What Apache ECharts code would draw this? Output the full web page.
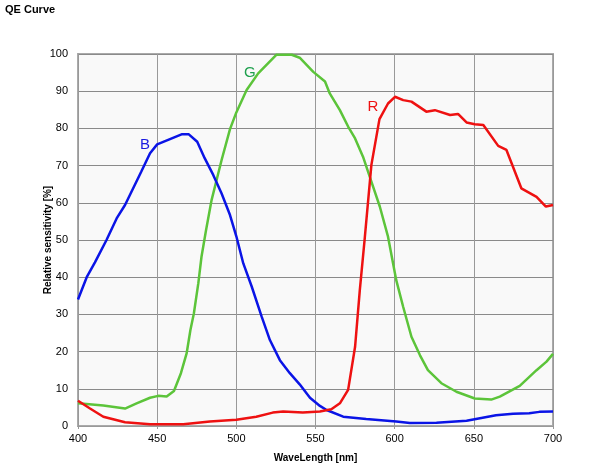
<!DOCTYPE html>
<html><head><meta charset="utf-8">
<script src="https://cdn.jsdelivr.net/npm/echarts@6/dist/echarts.min.js"></script>
<style>html,body{margin:0;padding:0;background:#fff}#c{width:600px;height:465px}</style>
</head><body><div id="c"></div>
<script>
var xTicks = [400, 450, 500, 550, 600, 650, 700];
var blueWl = [400,405.5,410.7,418,424.4,429.7,440,445.5,450,465.4,470,475.3,480,485.4,490.7,496,500,504.4,509.7,516,521.2,527.5,533.8,540,546.5,552.8,557,567.5,582,601,609.6,626.4,645.4,664,674.8,685,691.4,700];
var blueVal = [34,40,44,50,55.8,59.4,68.4,73.3,75.7,78.4,78.4,76.4,72,67.5,62.5,56.7,51,43.7,37.5,29.4,23.1,17.7,14.2,11.2,7.6,5.4,4.3,2.5,1.9,1.2,0.8,0.9,1.4,2.9,3.3,3.4,3.8,3.9];
var greenWl = [400,416,429.7,437,445.5,450.7,456,460.6,465,468.6,471,473.2,476,478,480.8,484.4,490.7,496,500,506.5,513.8,525.4,535,540,548.6,556,559,565.4,570.6,575,580,585.3,590.6,595.8,601,605.4,610.6,616,621,629.5,639,650.6,661,666.4,679,689.6,695.9,700];
var greenVal = [6.1,5.5,4.7,6.1,7.6,8.1,7.9,9.4,14.2,19.5,25.8,30.3,38.4,45.5,52.5,60.8,71.5,79.8,84.3,90.3,94.8,99.8,99.8,99,95.2,92.6,89.4,84.9,80.5,77.3,72.4,65.7,59,50.9,39.2,32,24,19,15,11.5,9.2,7.4,7.1,7.9,10.8,15,17.3,19.4];
var redWl = [400,407.6,416,429.7,445.5,466.5,483.3,500,512.6,523,529.6,542,552.8,560,565.4,570.6,575,578,581,585.3,590.4,595.8,600.2,605.4,610.6,620,625.4,635,640,645.4,650.6,656,665.4,670.6,680,689.6,695.5,700];
var redVal = [6.8,4.7,2.5,1,0.5,0.5,1.2,1.7,2.5,3.6,3.9,3.6,3.9,4.5,6.1,9.7,21.3,36.6,50,70.2,82.5,86.7,88.5,87.6,87.2,84.5,84.9,83.6,83.9,81.6,81.1,80.9,75.3,74.2,63.9,61.6,59,59.4];
var labelB = [442.3, 75.5], labelG = [508.6, 94.9], labelR = [586.2, 85.8];

function pairs(xs, ys){ return xs.map(function(x,i){ return [x, ys[i]]; }); }
function lbl(name, coord, color){
  return { symbol:'circle', symbolSize:2, silent:true, animation:false,
    itemStyle:{color:'rgba(0,0,0,0)'},
    label:{show:true, position:'inside', formatter:name, color:color, fontSize:15, fontFamily:'Liberation Sans, Arial, sans-serif'},
    data:[{coord:coord, value:name}] };
}
var chart = echarts.init(document.getElementById('c'), null, {renderer:'canvas'});
chart.setOption({
  animation:false,
  backgroundColor:'#ffffff',
  title:{text:'QE Curve', left:0, top:-1, textStyle:{fontSize:11, fontWeight:'bold', color:'#000', fontFamily:'Liberation Sans, Arial, sans-serif'}},
  grid:{left:78, right:47, top:54, bottom:39, outerBoundsMode:'none', containLabel:false, show:true, backgroundColor:'#f9f9f9', borderColor:'#aaaaaa', borderWidth:2},
  xAxis:{type:'value', min:400, max:700, interval:50,
    name:'WaveLength [nm]', nameLocation:'middle', nameGap:27, nameMoveOverlap:false,
    nameTextStyle:{fontSize:10, fontWeight:'bold', color:'#000', fontFamily:'Liberation Sans, Arial, sans-serif'},
    axisLine:{show:true, lineStyle:{color:'#999', width:1}},
    axisTick:{show:true, length:3, lineStyle:{color:'#999'}},
    axisLabel:{fontSize:11, color:'#000', margin:7, fontFamily:'Liberation Sans, Arial, sans-serif'},
    splitLine:{show:true, lineStyle:{color:'#999', width:1}}
  },
  yAxis:{type:'value', min:0, max:100, interval:10,
    name:'Relative sensitivity [%]', nameLocation:'middle', nameGap:25, nameRotate:90, nameMoveOverlap:false,
    nameTextStyle:{fontSize:10, fontWeight:'bold', color:'#000', fontFamily:'Liberation Sans, Arial, sans-serif'},
    axisLine:{show:true, lineStyle:{color:'#999', width:1}},
    axisTick:{show:false},
    axisLabel:{fontSize:11, color:'#000', margin:10, fontFamily:'Liberation Sans, Arial, sans-serif'},
    splitLine:{show:true, lineStyle:{color:'#8a8a8a', width:1}}
  },
  series:[
    {type:'line', name:'B', data:pairs(blueWl, blueVal), showSymbol:false, symbol:'none', lineStyle:{color:'#0a14e6', width:2.5}, itemStyle:{color:'#0a14e6'}, z:3, markPoint: lbl('B', labelB, '#1a1ae0')},
    {type:'line', name:'G', data:pairs(greenWl, greenVal), showSymbol:false, symbol:'none', lineStyle:{color:'#5cc43a', width:2.5}, itemStyle:{color:'#5cc43a'}, z:2, markPoint: lbl('G', labelG, '#1fa04e')},
    {type:'line', name:'R', data:pairs(redWl, redVal), showSymbol:false, symbol:'none', lineStyle:{color:'#ee1111', width:2.5}, itemStyle:{color:'#ee1111'}, z:4, markPoint: lbl('R', labelR, '#ee1111')}
  ]
});
</script></body></html>
